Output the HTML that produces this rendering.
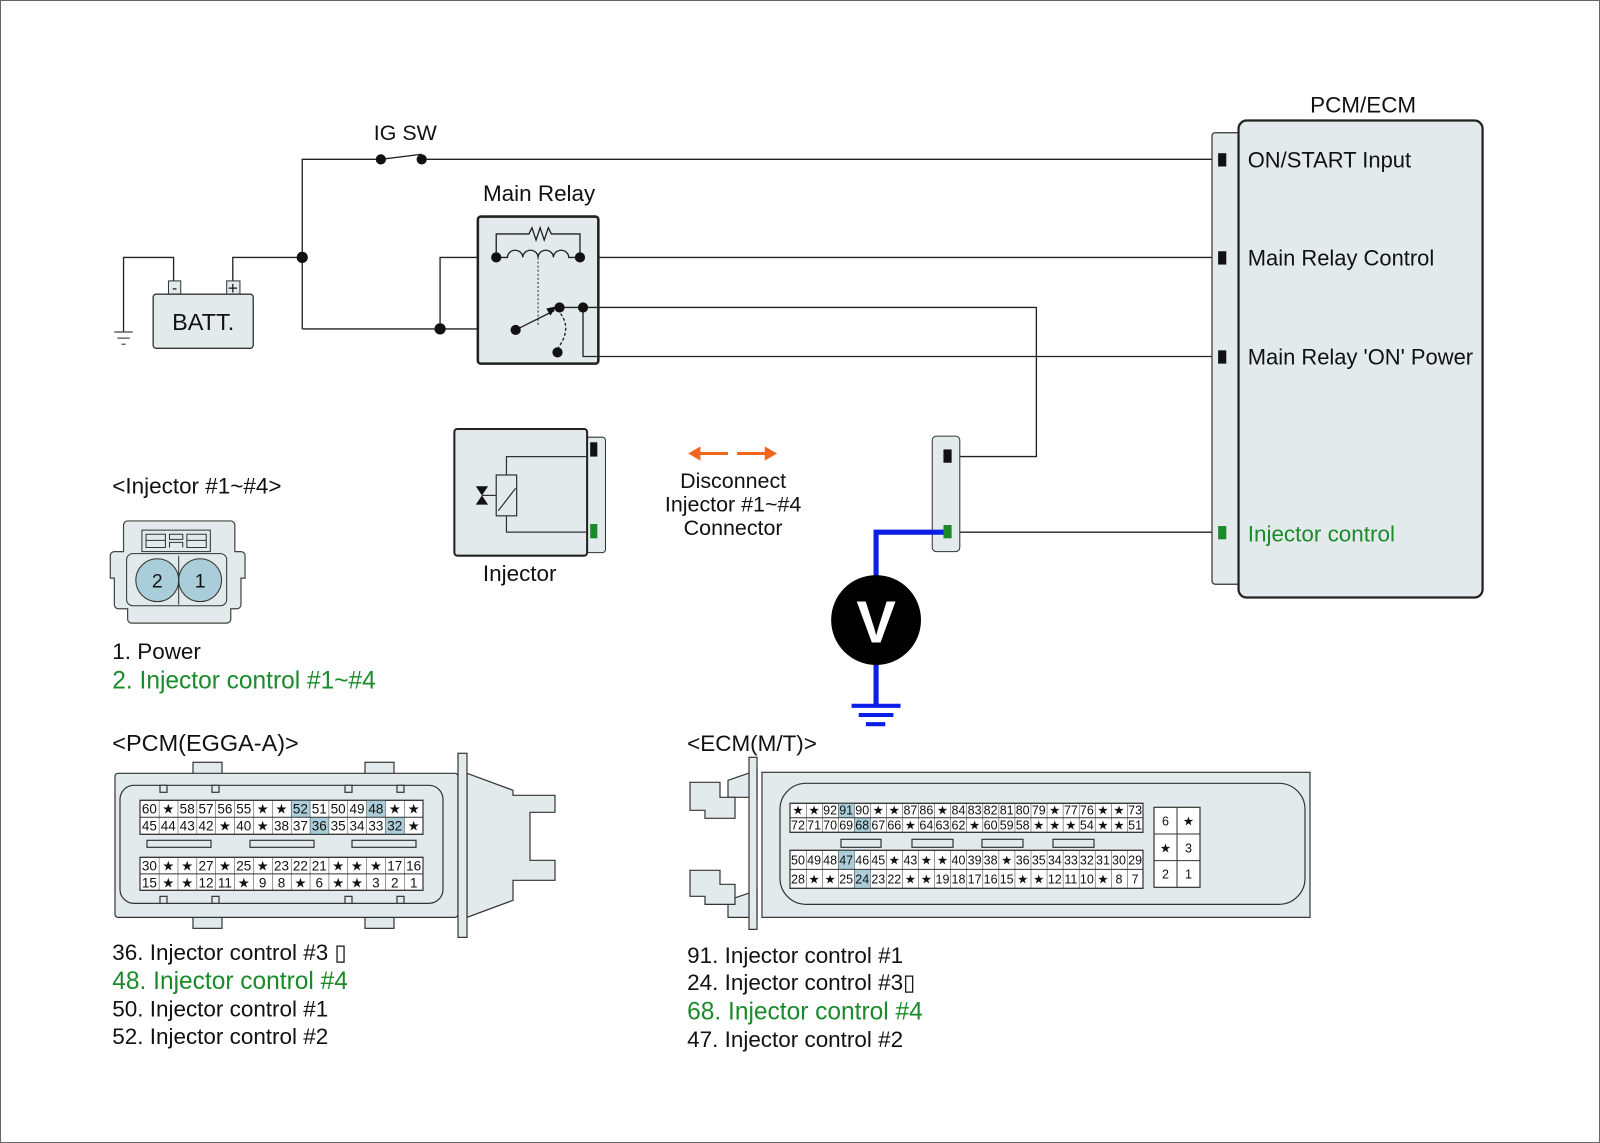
<!DOCTYPE html>
<html><head><meta charset="utf-8"><style>
html,body{margin:0;padding:0;background:#fff}
svg{display:block}
text{font-family:"Liberation Sans","DejaVu Sans",sans-serif;fill:#111}
.g{fill:#1a8a2a}
.c text{font-size:13.5px;text-anchor:middle}
.e text{font-size:12.5px;text-anchor:middle}
</style></head><body>
<svg width="1600" height="1143" viewBox="0 0 1567 1119" preserveAspectRatio="none" xmlns="http://www.w3.org/2000/svg">
<defs>
<pattern id="pg" patternUnits="userSpaceOnUse" x="140" y="0" width="18.867" height="2000"><line x1="0" y1="0" x2="0" y2="2000" stroke="#333" stroke-width="1"/></pattern>
<pattern id="eg" patternUnits="userSpaceOnUse" x="790" y="0" width="16.05" height="2000"><line x1="0" y1="0" x2="0" y2="2000" stroke="#333" stroke-width="1"/></pattern>
</defs>
<rect x="0.5" y="0.5" width="1566" height="1118" fill="#fff" stroke="#666" stroke-width="1"/>

<g stroke="#222" stroke-width="1.3" fill="none">
<path d="M296,322 V156 H373"/>
<path d="M413,156 H1196"/>
<path d="M373,156 L413,151"/>
<path d="M228,275 V252 H296"/>
<path d="M170,275 V252 H121 V325"/>
<path d="M296,322 H505"/>
<path d="M431,322 V252 H486"/>
<path d="M568,252 H1196"/>
<path d="M548,301 H1015 V447 H928"/>
<path d="M571,301 V349 H1196"/>
<path d="M928,521 H1196"/>
</g>
<g stroke="#444" stroke-width="1.2"><line x1="112" y1="325" x2="130" y2="325"/><line x1="115" y1="331" x2="127" y2="331"/><line x1="119" y1="337" x2="123" y2="337"/></g>
<g fill="#111"><circle cx="373" cy="156" r="5"/><circle cx="413" cy="156" r="5"/><circle cx="296" cy="252" r="5.5"/><circle cx="431" cy="322" r="5.5"/></g>
<text x="397" y="137" font-size="21" text-anchor="middle">IG SW</text>

<rect x="165" y="275" width="12" height="13" fill="#e3eaec" stroke="#333"/>
<rect x="222" y="275" width="13" height="13" fill="#e3eaec" stroke="#333"/>
<text x="171" y="287" font-size="15" text-anchor="middle">-</text>
<text x="228" y="288" font-size="17" text-anchor="middle">+</text>
<rect x="150" y="288" width="98" height="53" rx="3" fill="#e3eaec" stroke="#333" stroke-width="1.3"/>
<text x="199" y="323" font-size="23" text-anchor="middle">BATT.</text>

<text x="528" y="197" font-size="22" text-anchor="middle">Main Relay</text>
<rect x="468" y="212" width="118" height="144" rx="3" fill="#e3eaec" stroke="#222" stroke-width="2.5"/>
<g stroke="#222" stroke-width="1.3" fill="none">
<path d="M548,301 H586"/>
<path d="M571,301 V349 H586"/>
<path d="M486,252 V229 H518 l3,-6 l4,12 l4,-12 l4,12 l4,-12 l3,6 H568 V252"/>
<path d="M486,252 H497 a7.5,7 0 0 1 15,0 a7.5,7 0 0 1 15,0 a7.5,7 0 0 1 15,0 a7.5,7 0 0 1 15,0 H568"/>
<path d="M527,252 V318" stroke-dasharray="2,2" stroke="#555"/>
<path d="M505,323 L543,304"/>
<path d="M549,307 Q560,322 547,340" stroke-dasharray="3,2"/>
</g>
<path d="M545,300 L535,302 L539,309 Z" fill="#111"/>
<g fill="#111"><circle cx="486" cy="252" r="5"/><circle cx="568" cy="252" r="5"/><circle cx="505" cy="323" r="5"/><circle cx="548" cy="301" r="5"/><circle cx="571" cy="301" r="5"/><circle cx="546" cy="345" r="5"/></g>

<text x="1335" y="110" font-size="22" text-anchor="middle">PCM/ECM</text>
<rect x="1187" y="130" width="30" height="442" rx="3" fill="#e3eaec" stroke="#333" stroke-width="1.2"/>
<rect x="1213" y="118" width="239" height="467" rx="8" fill="#e3eaec" stroke="#222" stroke-width="2.2"/>
<rect x="1193" y="150" width="8" height="13" fill="#111"/>
<rect x="1193" y="246" width="8" height="13" fill="#111"/>
<rect x="1193" y="343" width="8" height="13" fill="#111"/>
<rect x="1193" y="515" width="8" height="13" fill="#1a8a2a"/>
<text x="1222" y="164" font-size="21.5">ON/START Input</text>
<text x="1222" y="260" font-size="21.5">Main Relay Control</text>
<text x="1222" y="357" font-size="21.5">Main Relay 'ON' Power</text>
<text x="1222" y="530" font-size="22" class="g">Injector control</text>

<rect x="574" y="428" width="19" height="113" rx="3" fill="#e3eaec" stroke="#333"/>
<rect x="445" y="420" width="130" height="124" rx="3" fill="#e3eaec" stroke="#222" stroke-width="2"/>
<rect x="578" y="433" width="7" height="14" fill="#111"/>
<rect x="578" y="513" width="7" height="14" fill="#1a8a2a"/>
<g stroke="#333" stroke-width="1.2" fill="none">
<path d="M496,465 V447 H575"/><path d="M496,505 V521 H575"/>
<rect x="486" y="465" width="20" height="40" fill="#e3eaec"/>
<path d="M488,500 L505,478"/>
<path d="M472,485 H486"/>
</g>
<path d="M466,476 H478 L466,494 H478 Z" fill="#111"/>
<text x="509" y="569" font-size="22" text-anchor="middle">Injector</text>

<g stroke="#f0661e" stroke-width="3" fill="#f0661e">
<line x1="682" y1="444" x2="713" y2="444"/><path d="M674,444 L686,437 L686,451 Z" stroke="none"/>
<line x1="722" y1="444" x2="752" y2="444"/><path d="M761,444 L749,437 L749,451 Z" stroke="none"/>
</g>
<text x="718" y="478" font-size="21" text-anchor="middle">Disconnect</text>
<text x="718" y="501" font-size="21" text-anchor="middle">Injector #1~#4</text>
<text x="718" y="524" font-size="21" text-anchor="middle">Connector</text>

<rect x="913" y="427" width="27" height="113" rx="4" fill="#e3eaec" stroke="#333"/>
<rect x="924" y="440" width="8" height="13" fill="#111"/>
<path d="M928,521 H858 V690" stroke="#0a1ee8" stroke-width="5" fill="none"/>
<rect x="924" y="514" width="8" height="13" fill="#1a8a2a"/>
<circle cx="858" cy="607" r="44" fill="#000"/>
<text x="858" y="629" font-size="58" font-weight="bold" text-anchor="middle" style="fill:#fff">V</text>
<g stroke="#0a1ee8" stroke-width="4"><line x1="834" y1="691" x2="882" y2="691"/><line x1="841" y1="700" x2="875" y2="700"/><line x1="848" y1="709" x2="867" y2="709"/></g>

<text x="110" y="483" font-size="22">&lt;Injector #1~#4&gt;</text>
<path d="M125,510 H226 a4,4 0 0 1 4,4 V540 H236 a4,4 0 0 1 4,4 V566 H236 V592 a4,4 0 0 1 -4,4 H226 V606 a4,4 0 0 1 -4,4 H129 a4,4 0 0 1 -4,-4 V596 H116 a4,4 0 0 1 -4,-4 V566 H108 V544 a4,4 0 0 1 4,-4 H121 V514 a4,4 0 0 1 4,-4 Z" fill="#e3eaec" stroke="#444" stroke-width="1.2"/>
<rect x="139" y="519" width="67" height="21" fill="#e3eaec" stroke="#333"/>
<path d="M143,523 V536 H162 V523 Z M183,523 V536 H202 V523 Z M143,529 H162 M183,529 H202 M166,523 H179 V528 H166 Z M166,536 V531 H179 V536" fill="none" stroke="#333"/>
<rect x="124" y="542" width="98" height="51" rx="6" fill="#e3eaec" stroke="#333"/>
<circle cx="154" cy="568" r="21" fill="#a9cdd9" stroke="#333"/>
<circle cx="196" cy="568" r="21" fill="#a9cdd9" stroke="#333"/>
<line x1="175" y1="544" x2="175" y2="592" stroke="#333"/>
<text x="154" y="575" font-size="19" text-anchor="middle">2</text>
<text x="196" y="575" font-size="19" text-anchor="middle">1</text>
<text x="110" y="645" font-size="22">1. Power</text>
<text x="110" y="674" font-size="24" class="g">2. Injector control #1~#4</text>

<text x="110" y="735" font-size="23">&lt;PCM(EGGA-A)&gt;</text>
<g transform="scale(0.97937)">
<g fill="#e3eaec" stroke="#333" stroke-width="1.2">
<rect x="193" y="762" width="29" height="12"/><rect x="365" y="762" width="29" height="12"/>
<rect x="193" y="916" width="29" height="12"/><rect x="365" y="916" width="29" height="12"/>
<path d="M467,773 L513,790 V795 H555 V812 H530 V860 H555 V880 H513 V900 L467,917 Z"/>
<rect x="115" y="773" width="343" height="144" rx="3"/>
<rect x="458" y="753" width="9" height="184"/>
<rect x="120" y="785" width="323" height="118" rx="14" fill="none"/>
<rect x="160" y="785" width="7" height="7"/><rect x="212" y="785" width="7" height="7"/><rect x="345" y="785" width="7" height="7"/><rect x="397" y="785" width="7" height="7"/>
<rect x="160" y="896" width="7" height="7"/><rect x="212" y="896" width="7" height="7"/><rect x="345" y="896" width="7" height="7"/><rect x="397" y="896" width="7" height="7"/>
<rect x="147" y="840" width="64" height="7"/><rect x="250" y="840" width="64" height="7"/><rect x="352" y="840" width="64" height="7"/>
<rect x="140" y="800" width="283" height="34" fill="#fff"/>
<rect x="140" y="857" width="283" height="33" fill="#fff"/>
</g>
<g fill="#a9cdd9"><rect x="291" y="800" width="18.9" height="17"/><rect x="366.5" y="800" width="18.9" height="17"/><rect x="310" y="817" width="18.9" height="17"/><rect x="385.3" y="817" width="18.9" height="17"/></g>
<rect x="140" y="800" width="283" height="34" fill="url(#pg)"/>
<rect x="140" y="857" width="283" height="33" fill="url(#pg)"/>
<g fill="none" stroke="#333"><rect x="140" y="800" width="283" height="34"/><line x1="140" y1="817" x2="423" y2="817"/><rect x="140" y="857" width="283" height="33"/><line x1="140" y1="873.5" x2="423" y2="873.5"/></g>
<g class="c">
<text x="149.4" y="813">60</text><text x="168.3" y="813">★</text><text x="187.2" y="813">58</text><text x="206" y="813">57</text><text x="224.9" y="813">56</text><text x="243.8" y="813">55</text><text x="262.7" y="813">★</text><text x="281.5" y="813">★</text><text x="300.4" y="813">52</text><text x="319.3" y="813">51</text><text x="338.2" y="813">50</text><text x="357" y="813">49</text><text x="375.9" y="813">48</text><text x="394.8" y="813">★</text><text x="413.7" y="813">★</text>
<text x="149.4" y="830">45</text><text x="168.3" y="830">44</text><text x="187.2" y="830">43</text><text x="206" y="830">42</text><text x="224.9" y="830">★</text><text x="243.8" y="830">40</text><text x="262.7" y="830">★</text><text x="281.5" y="830">38</text><text x="300.4" y="830">37</text><text x="319.3" y="830">36</text><text x="338.2" y="830">35</text><text x="357" y="830">34</text><text x="375.9" y="830">33</text><text x="394.8" y="830">32</text><text x="413.7" y="830">★</text>
<text x="149.4" y="870">30</text><text x="168.3" y="870">★</text><text x="187.2" y="870">★</text><text x="206" y="870">27</text><text x="224.9" y="870">★</text><text x="243.8" y="870">25</text><text x="262.7" y="870">★</text><text x="281.5" y="870">23</text><text x="300.4" y="870">22</text><text x="319.3" y="870">21</text><text x="338.2" y="870">★</text><text x="357" y="870">★</text><text x="375.9" y="870">★</text><text x="394.8" y="870">17</text><text x="413.7" y="870">16</text>
<text x="149.4" y="887">15</text><text x="168.3" y="887">★</text><text x="187.2" y="887">★</text><text x="206" y="887">12</text><text x="224.9" y="887">11</text><text x="243.8" y="887">★</text><text x="262.7" y="887">9</text><text x="281.5" y="887">8</text><text x="300.4" y="887">★</text><text x="319.3" y="887">6</text><text x="338.2" y="887">★</text><text x="357" y="887">★</text><text x="375.9" y="887">3</text><text x="394.8" y="887">2</text><text x="413.7" y="887">1</text>
</g>

<g fill="#e3eaec" stroke="#333" stroke-width="1.2">
<path d="M757,770 L728,780 V797 H757 Z M757,890 L728,900 V917 H757 Z"/>
<path d="M690,782 H720 V797 H735 V818 H705 V810 H690 Z M690,870 H720 V884 H735 V904 H705 V896 H690 Z"/>
<rect x="749" y="757" width="8" height="172"/>
<rect x="762" y="772" width="548" height="145"/>
<rect x="780" y="783" width="525" height="121" rx="26" fill="none"/>
<rect x="790" y="803" width="353" height="29" fill="#fff"/>
<rect x="790" y="850" width="353" height="38" fill="#fff"/>
<rect x="841" y="839" width="40" height="8"/><rect x="912" y="839" width="41" height="8"/><rect x="982" y="839" width="41" height="8"/><rect x="1053" y="839" width="41" height="8"/>
<rect x="1154" y="807" width="46" height="80" fill="#fff"/>
</g>
<g fill="#a9cdd9"><rect x="838.2" y="803" width="16" height="14.5"/><rect x="854.2" y="817.5" width="16" height="14.5"/><rect x="838.2" y="850" width="16" height="19"/><rect x="854.2" y="869" width="16" height="19"/></g>
<rect x="790" y="803" width="353" height="29" fill="url(#eg)"/>
<rect x="790" y="850" width="353" height="38" fill="url(#eg)"/>
<g fill="none" stroke="#333"><rect x="790" y="803" width="353" height="29"/><line x1="790" y1="817.5" x2="1143" y2="817.5"/><rect x="790" y="850" width="353" height="38"/><line x1="790" y1="869" x2="1143" y2="869"/>
<line x1="1177" y1="807" x2="1177" y2="887"/><line x1="1154" y1="833.7" x2="1200" y2="833.7"/><line x1="1154" y1="860.3" x2="1200" y2="860.3"/></g>
<g class="e">
<text x="798" y="814">★</text><text x="814.1" y="814">★</text><text x="830.1" y="814">92</text><text x="846.2" y="814">91</text><text x="862.2" y="814">90</text><text x="878.3" y="814">★</text><text x="894.3" y="814">★</text><text x="910.4" y="814">87</text><text x="926.4" y="814">86</text><text x="942.5" y="814">★</text><text x="958.5" y="814">84</text><text x="974.6" y="814">83</text><text x="990.6" y="814">82</text><text x="1006.7" y="814">81</text><text x="1022.7" y="814">80</text><text x="1038.8" y="814">79</text><text x="1054.8" y="814">★</text><text x="1070.9" y="814">77</text><text x="1086.9" y="814">76</text><text x="1103" y="814">★</text><text x="1119" y="814">★</text><text x="1135.1" y="814">73</text>
<text x="798" y="829">72</text><text x="814.1" y="829">71</text><text x="830.1" y="829">70</text><text x="846.2" y="829">69</text><text x="862.2" y="829">68</text><text x="878.3" y="829">67</text><text x="894.3" y="829">66</text><text x="910.4" y="829">★</text><text x="926.4" y="829">64</text><text x="942.5" y="829">63</text><text x="958.5" y="829">62</text><text x="974.6" y="829">★</text><text x="990.6" y="829">60</text><text x="1006.7" y="829">59</text><text x="1022.7" y="829">58</text><text x="1038.8" y="829">★</text><text x="1054.8" y="829">★</text><text x="1070.9" y="829">★</text><text x="1086.9" y="829">54</text><text x="1103" y="829">★</text><text x="1119" y="829">★</text><text x="1135.1" y="829">51</text>
<text x="798" y="864">50</text><text x="814.1" y="864">49</text><text x="830.1" y="864">48</text><text x="846.2" y="864">47</text><text x="862.2" y="864">46</text><text x="878.3" y="864">45</text><text x="894.3" y="864">★</text><text x="910.4" y="864">43</text><text x="926.4" y="864">★</text><text x="942.5" y="864">★</text><text x="958.5" y="864">40</text><text x="974.6" y="864">39</text><text x="990.6" y="864">38</text><text x="1006.7" y="864">★</text><text x="1022.7" y="864">36</text><text x="1038.8" y="864">35</text><text x="1054.8" y="864">34</text><text x="1070.9" y="864">33</text><text x="1086.9" y="864">32</text><text x="1103" y="864">31</text><text x="1119" y="864">30</text><text x="1135.1" y="864">29</text>
<text x="798" y="883">28</text><text x="814.1" y="883">★</text><text x="830.1" y="883">★</text><text x="846.2" y="883">25</text><text x="862.2" y="883">24</text><text x="878.3" y="883">23</text><text x="894.3" y="883">22</text><text x="910.4" y="883">★</text><text x="926.4" y="883">★</text><text x="942.5" y="883">19</text><text x="958.5" y="883">18</text><text x="974.6" y="883">17</text><text x="990.6" y="883">16</text><text x="1006.7" y="883">15</text><text x="1022.7" y="883">★</text><text x="1038.8" y="883">★</text><text x="1054.8" y="883">12</text><text x="1070.9" y="883">11</text><text x="1086.9" y="883">10</text><text x="1103" y="883">★</text><text x="1119" y="883">8</text><text x="1135.1" y="883">7</text>
<text x="1165.5" y="825">6</text><text x="1188.5" y="825">★</text><text x="1165.5" y="852">★</text><text x="1188.5" y="852">3</text><text x="1165.5" y="878">2</text><text x="1188.5" y="878">1</text>
</g>
</g>
<text x="673" y="735" font-size="22">&lt;ECM(M/T)&gt;</text>

<text x="110" y="940" font-size="22">36. Injector control #3 ▯</text>
<text x="110" y="968" font-size="24" class="g">48. Injector control #4</text>
<text x="110" y="995" font-size="22">50. Injector control #1</text>
<text x="110" y="1022" font-size="22">52. Injector control #2</text>
<text x="673" y="943" font-size="22">91. Injector control #1</text>
<text x="673" y="969" font-size="22">24. Injector control #3▯</text>
<text x="673" y="998" font-size="24" class="g">68. Injector control #4</text>
<text x="673" y="1025" font-size="22">47. Injector control #2</text>
</svg>
</body></html>
